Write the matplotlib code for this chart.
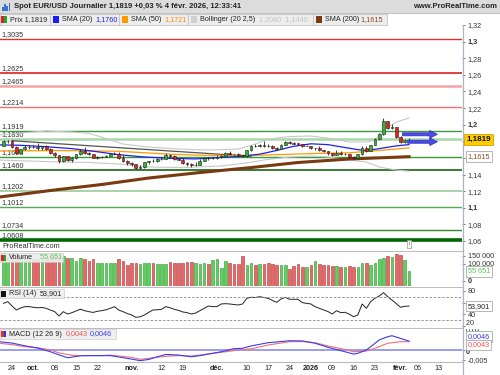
import numpy as np
import pandas as pd
import matplotlib
matplotlib.use('Agg')
import matplotlib.pyplot as plt
from matplotlib.patches import Rectangle
from matplotlib.lines import Line2D
from matplotlib.transforms import Bbox

plt.rcParams['font.family'] = ['Liberation Sans', 'DejaVu Sans']

# EUR/USD daily candles, 22 sept. 2025 -> 4 févr. 2026
opens = [1.1745, 1.1800, 1.1803, 1.1735, 1.1665, 1.1702, 1.1727, 1.1733, 1.1730, 1.1717,
         1.1741, 1.1711, 1.1657, 1.1630, 1.1563, 1.1618, 1.1570, 1.1603, 1.1646, 1.1688,
         1.1654, 1.1644, 1.1604, 1.1610, 1.1616, 1.1626, 1.1644, 1.1650, 1.1600, 1.1566,
         1.1535, 1.1521, 1.1484, 1.1492, 1.1547, 1.1565, 1.1558, 1.1582, 1.1592, 1.1633,
         1.1621, 1.1592, 1.1581, 1.1543, 1.1527, 1.1512, 1.1520, 1.1569, 1.1598, 1.1594,
         1.1598, 1.1610, 1.1625, 1.1663, 1.1645, 1.1642, 1.1637, 1.1627, 1.1695, 1.1740,
         1.1738, 1.1753, 1.1745, 1.1742, 1.1722, 1.1710, 1.1760, 1.1795, 1.1780, 1.1772,
         1.1770, 1.1745, 1.1745, 1.1720, 1.1722, 1.1690, 1.1678, 1.1656, 1.1636, 1.1665,
         1.1645, 1.1645, 1.1610, 1.1598, 1.1645, 1.1725, 1.1685, 1.1755, 1.1828, 1.1882,
         1.2040, 1.1955, 1.1970, 1.1852, 1.1790, 1.1816]
highs = [1.1818, 1.1819, 1.1812, 1.1745, 1.1713, 1.1752, 1.1754, 1.1752, 1.1777, 1.1749,
         1.1752, 1.1718, 1.1668, 1.1635, 1.1627, 1.1625, 1.1612, 1.1651, 1.1705, 1.1728,
         1.1672, 1.1648, 1.1622, 1.1625, 1.1636, 1.1651, 1.1668, 1.1668, 1.1631, 1.1575,
         1.1545, 1.1532, 1.1510, 1.1553, 1.1569, 1.1586, 1.1595, 1.1610, 1.1656, 1.1653,
         1.1630, 1.1603, 1.1595, 1.1556, 1.1535, 1.1550, 1.1585, 1.1612, 1.1612, 1.1608,
         1.1630, 1.1640, 1.1670, 1.1682, 1.1650, 1.1655, 1.1650, 1.1700, 1.1752, 1.1762,
         1.1770, 1.1805, 1.1762, 1.1750, 1.1730, 1.1768, 1.1805, 1.1808, 1.1790, 1.1782,
         1.1772, 1.1760, 1.1745, 1.1725, 1.1745, 1.1700, 1.1682, 1.1660, 1.1699, 1.1680,
         1.1655, 1.1652, 1.1620, 1.1650, 1.1740, 1.1740, 1.1760, 1.1835, 1.1905, 1.2082,
         1.2045, 1.2005, 1.1975, 1.1865, 1.1830, 1.1835]
lows = [1.1738, 1.1780, 1.1725, 1.1645, 1.1658, 1.1695, 1.1710, 1.1715, 1.1698, 1.1700,
        1.1700, 1.1650, 1.1610, 1.1542, 1.1555, 1.1560, 1.1545, 1.1593, 1.1640, 1.1652,
        1.1630, 1.1600, 1.1590, 1.1598, 1.1610, 1.1618, 1.1640, 1.1590, 1.1550, 1.1520,
        1.1500, 1.1470, 1.1470, 1.1482, 1.1530, 1.1545, 1.1550, 1.1575, 1.1585, 1.1605,
        1.1575, 1.1570, 1.1532, 1.1505, 1.1490, 1.1502, 1.1510, 1.1560, 1.1580, 1.1585,
        1.1590, 1.1605, 1.1620, 1.1640, 1.1630, 1.1610, 1.1615, 1.1615, 1.1685, 1.1728,
        1.1730, 1.1735, 1.1730, 1.1712, 1.1695, 1.1705, 1.1755, 1.1770, 1.1765, 1.1755,
        1.1735, 1.1738, 1.1710, 1.1700, 1.1680, 1.1670, 1.1640, 1.1620, 1.1630, 1.1635,
        1.1630, 1.1600, 1.1590, 1.1590, 1.1640, 1.1675, 1.1680, 1.1750, 1.1820, 1.1875,
        1.1950, 1.1945, 1.1845, 1.1775, 1.1785, 1.1805]
closes = [1.1802, 1.1803, 1.1735, 1.1665, 1.1702, 1.1727, 1.1733, 1.1730, 1.1717, 1.1741,
          1.1711, 1.1657, 1.1630, 1.1563, 1.1618, 1.1570, 1.1603, 1.1646, 1.1688, 1.1654,
          1.1644, 1.1604, 1.1610, 1.1616, 1.1626, 1.1644, 1.1650, 1.1600, 1.1566, 1.1535,
          1.1521, 1.1484, 1.1492, 1.1547, 1.1565, 1.1558, 1.1582, 1.1592, 1.1633, 1.1621,
          1.1592, 1.1581, 1.1543, 1.1527, 1.1512, 1.1520, 1.1569, 1.1598, 1.1594, 1.1598,
          1.1610, 1.1625, 1.1663, 1.1645, 1.1642, 1.1637, 1.1627, 1.1695, 1.1740, 1.1738,
          1.1753, 1.1745, 1.1742, 1.1722, 1.1710, 1.1760, 1.1795, 1.1780, 1.1772, 1.1770,
          1.1745, 1.1745, 1.1720, 1.1722, 1.1690, 1.1678, 1.1656, 1.1636, 1.1665, 1.1645,
          1.1645, 1.1610, 1.1598, 1.1645, 1.1725, 1.1685, 1.1755, 1.1828, 1.1882, 1.2040,
          1.1955, 1.1970, 1.1852, 1.1790, 1.1816, 1.1819]
volumes = [165000, 150000, 160000, 155000, 150000, 140000, 135000, 130000, 130000, 135000,
           140000, 145000, 150000, 155000, 145000, 133000, 135000, 119000, 133000, 127000,
           119000, 127000, 107000, 103000, 107000, 107000, 107000, 127000, 119000, 93000,
           103000, 103000, 99000, 103000, 103000, 107000, 99000, 99000, 99000, 113000,
           103000, 103000, 103000, 113000, 113000, 103000, 99000, 107000, 99000, 123000,
           127000, 73000, 119000, 103000, 99000, 99000, 147000, 93000, 107000, 93000,
           99000, 99000, 103000, 99000, 91000, 91000, 91000, 67000, 87000, 99000,
           83000, 79000, 91000, 115000, 99000, 91000, 91000, 87000, 87000, 83000,
           79000, 87000, 83000, 83000, 107000, 103000, 93000, 103000, 127000, 133000,
           147000, 143000, 159000, 153000, 123000, 55651]
rsi = [58.6, 61.5, 54.0, 47.2, 50.5, 52.9, 53.0, 51.8, 51.0, 51.5,
       50.0, 47.0, 44.3, 36.9, 44.3, 40.3, 42.5, 45.5, 48.5, 46.0,
       44.3, 43.0, 45.0, 46.0, 47.5, 50.0, 52.9, 47.0, 44.3, 41.0,
       38.6, 34.6, 35.5, 38.6, 43.0, 47.2, 47.5, 48.3, 52.9, 51.0,
       48.3, 46.5, 43.8, 42.6, 40.3, 42.0, 46.0, 50.0, 54.0, 53.0,
       52.9, 57.5, 58.0, 57.5, 56.5, 55.8, 57.5, 67.2, 69.0, 68.5,
       70.0, 68.5, 67.2, 63.5, 60.3, 66.0, 68.9, 65.5, 65.5, 65.5,
       59.8, 58.5, 57.5, 52.9, 50.0, 47.2, 44.5, 40.3, 46.0, 42.6,
       43.2, 40.0, 35.7, 38.6, 57.5, 50.0, 61.5, 67.2, 71.0, 76.9,
       70.0, 64.3, 58.0, 51.8, 53.5, 53.9]

# smooth lines, read at some days (day index -> value)
sma20_x = [-1, 4, 10, 16, 21, 27, 33, 39, 45, 51, 56, 60, 64, 68, 72, 76, 80, 83, 85, 88, 92, 95]
sma20_y = [1.1757, 1.1752, 1.1735, 1.1712, 1.1681, 1.1639, 1.1611, 1.1595, 1.1588, 1.1606, 1.1622,
           1.1645, 1.1690, 1.1740, 1.1770, 1.1760, 1.1725, 1.1700, 1.1690, 1.1712, 1.1745, 1.1760]
sma50_x = [-1, 13, 27, 39, 46, 55, 65, 74, 81, 88, 95]
sma50_y = [1.1683, 1.1689, 1.1680, 1.1645, 1.1633, 1.1627, 1.1640, 1.1655, 1.1662, 1.1690, 1.1721]
sma200_x = [-1, 11, 23, 34, 46, 58, 69, 81, 95]
sma200_y = [1.1129, 1.1208, 1.1280, 1.1358, 1.1424, 1.1484, 1.1545, 1.1587, 1.1615]
bbu_x = [-1, 4, 10, 16, 20, 23, 28, 34, 41, 48, 55, 59, 62, 67, 72, 76, 81, 85, 87, 89, 92, 95]
bbu_y = [1.1876, 1.1900, 1.1924, 1.1912, 1.1895, 1.1851, 1.1767, 1.1731, 1.1707, 1.1695, 1.1707,
         1.1767, 1.1827, 1.1857, 1.1864, 1.1839, 1.1791, 1.1791, 1.1815, 1.1936, 1.2032, 1.2080]
bbl_x = [-1, 6, 13, 20, 27, 34, 42, 51, 57, 61, 67, 72, 76, 81, 85, 88, 92, 95]
bbl_y = [1.1575, 1.1563, 1.1551, 1.1545, 1.1527, 1.1491, 1.1484, 1.1503, 1.1539, 1.1575,
         1.1611, 1.1623, 1.1611, 1.1575, 1.1551, 1.1491, 1.1454, 1.1440]
trend_x = [2, 58]
trend_y = [1.1807, 1.1620]
macd_x = [-1, 2, 5, 8, 11, 13, 15, 18, 20, 23, 25, 27, 30, 32, 34, 36, 38, 41, 44, 46,
          48, 51, 54, 56, 58, 62, 67, 70, 73, 76, 80, 82, 83, 85, 86, 88, 90, 91, 93, 95]
macd_v = [0.0043, 0.0036, 0.0022, 0.0010, -0.0009, -0.0025, -0.0040, -0.0030, -0.0029, -0.0029,
          -0.0029, -0.0036, -0.0047, -0.0055, -0.0049, -0.0035, -0.0023, -0.0026, -0.0035, -0.0029,
          -0.0021, -0.0009, 0.0007, 0.0009, 0.0021, 0.0038, 0.0048, 0.0047, 0.0035, 0.0014,
          -0.0009, -0.0021, -0.0017, 0.0000, 0.0017, 0.0052, 0.0069, 0.0074, 0.0060, 0.0046]
sig_x = [-1, 2, 5, 8, 11, 13, 16, 18, 20, 23, 25, 27, 30, 32, 34, 37, 39, 41, 44, 46,
         49, 52, 55, 58, 62, 67, 70, 73, 76, 80, 82, 85, 87, 90, 93, 95]
sig_v = [0.0035, 0.0028, 0.0017, 0.0012, 0.0000, -0.0015, -0.0027, -0.0029, -0.0029, -0.0029,
         -0.0026, -0.0031, -0.0038, -0.0048, -0.0043, -0.0035, -0.0031, -0.0029, -0.0031, -0.0026,
         -0.0017, -0.0009, 0.0000, 0.0006, 0.0026, 0.0043, 0.0044, 0.0038, 0.0021, 0.0003,
         -0.0009, -0.0005, 0.0009, 0.0035, 0.0043, 0.0043]

# support / resistance levels
levels = [1.3035, 1.2625, 1.2465, 1.2214, 1.1919, 1.1830, 1.1608, 1.1460, 1.1202, 1.1012, 1.0734, 1.0608]
level_colors = ['#e03030', '#dd2020', '#f4a4a4', '#f07070', '#3a9a3a', '#a8d8a8',
                '#3a9a3a', '#146614', '#99cc99', '#55aa55', '#338833', '#006600']
level_widths = [1.0, 1.2, 1.8, 1.0, 1.0, 1.8, 1.0, 1.2, 1.2, 1.0, 1.0, 2.6]

tick_dates = ['2025-09-24', '2025-10-01', '2025-10-08', '2025-10-15', '2025-10-22', '2025-11-03',
              '2025-11-12', '2025-11-19', '2025-12-01', '2025-12-10', '2025-12-17', '2025-12-24',
              '2026-01-02', '2026-01-09', '2026-01-16', '2026-01-23', '2026-02-02', '2026-02-06',
              '2026-02-13']
tick_labels = ['24', 'oct.', '08', '15', '22', 'nov.', '12', '19', 'déc.', '10', '17', '24',
               '2026', '09', '16', '23', 'févr.', '06', '13']
bold_labels = ['oct.', 'nov.', 'déc.', '2026', 'févr.']

days = pd.bdate_range('2025-09-22', '2026-02-27')
days = days[~days.isin(pd.to_datetime(['2025-12-25', '2026-01-01']))]
ticks = [days.get_loc(pd.Timestamp(d)) for d in tick_dates]
x = np.arange(len(closes))
o, h, l, c = map(np.array, (opens, highs, lows, closes))
up = c >= o

W, H = 500, 375
def fx(p):
    return p / W
def fy(p):
    return 1 - p / H

fig = plt.figure(figsize=(5, 3.75), dpi=100)
fs = 5.2

def rect(x0, y0, x1, y1, **kw):
    fig.add_artist(Rectangle((fx(x0), fy(y1)), (x1 - x0) / W, (y1 - y0) / H,
                             transform=fig.transFigure, **kw))

def txt(px, py, s, **kw):
    kw.setdefault('fontsize', fs)
    kw.setdefault('color', '#222222')
    return fig.text(fx(px), fy(py), s, va='center', **kw)

def valbox(a, xpos, ypos, s, col, trans, **kw):
    a.text(xpos, ypos, s, transform=trans, fontsize=kw.pop('fontsize', fs), color=col,
           va='center', clip_on=False, zorder=6,
           bbox=dict(boxstyle='square,pad=0.25', fc=kw.pop('fc', 'white'),
                     ec=kw.pop('ec', '#aaaaaa'), lw=0.6), **kw)

def sidelabel(a, yv, s, **kw):
    # right-hand scale label placed by hand (next to a tick whose label is left empty)
    a.text(1.0, yv, '  ' + s, transform=a.get_yaxis_transform(), fontsize=fs,
           color='#333333', va='center', clip_on=False, **kw)

XL = (-0.82, 107.4)
axw = 462 / W
ax = fig.add_axes([0, fy(242), axw, 217 / H])
axv = fig.add_axes([0, fy(286), axw, 35 / H])
axr = fig.add_axes([0, fy(327), axw, 40 / H])
axm = fig.add_axes([0, fy(362), axw, 34 / H])

for a in (ax, axv, axr, axm):
    a.set_xlim(*XL)
    for s in ('top', 'bottom', 'left', 'right'):
        a.spines[s].set_visible(False)
    a.yaxis.tick_right()
    a.tick_params(axis='y', length=2.5, width=0.6, color='#666666', pad=1.5,
                  labelsize=fs, labelcolor='#333333')
    a.tick_params(axis='x', length=0, labelbottom=False)
for a in (axv, axr, axm):
    a.spines['top'].set_visible(True)
    a.spines['top'].set_color('#bbbbbb')
    a.spines['top'].set_linewidth(0.7)
axm.spines['bottom'].set_visible(True)
axm.spines['bottom'].set_color('#bbbbbb')

# ---- main price panel
ax.set_ylim(1.0588, 1.3199)
pt = np.arange(1.06, 1.3201, 0.02)
ax.set_yticks(pt)
# 1,18 and 1,16 sit under the value boxes
plabels = [('%.2f' % v).rstrip('0').replace('.', ',') for v in pt]
plabels = ['' if s in ('1,18', '1,16') else s for s in plabels]
ax.set_yticklabels(plabels)
for lab, v in zip(ax.get_yticklabels(), pt):
    if abs(v * 10 - round(v * 10)) < 1e-6:
        lab.set_fontweight('bold')

for lv, col, lw in zip(levels, level_colors, level_widths):
    ax.axhline(lv, color=col, lw=lw, zorder=1)
    ax.text(0.004, lv + 0.0012, ('%.4f' % lv).replace('.', ','), transform=ax.get_yaxis_transform(),
            fontsize=fs, color='#333333', va='bottom', zorder=1.5)

ax.plot(bbu_x, bbu_y, color='#c8c8c8', lw=0.8, zorder=2)
ax.plot(bbl_x, bbl_y, color='#c8c8c8', lw=0.8, zorder=2)
ax.plot(trend_x, trend_y, color='#555555', lw=0.9, zorder=2)
ax.plot(sma200_x, sma200_y, color='#7a3a10', lw=2.2, zorder=2)
ax.plot(sma50_x, sma50_y, color='#ff9900', lw=0.9, zorder=2)
ax.plot(sma20_x, sma20_y, color='#2020e8', lw=0.9, zorder=2)

ax.vlines(x, l, h, color='#222222', lw=0.6, zorder=3)
body = np.maximum(np.abs(c - o), 0.0004)
ax.bar(x, body, bottom=np.minimum(o, c), width=0.65,
       color=np.where(up, '#2fb52f', '#e82020'), edgecolor='#1e1e1e', lw=0.4, zorder=4)

arrow = dict(arrowstyle='simple,head_length=0.55,head_width=0.55,tail_width=0.22',
             fc='#4b4be8', ec='#2a2ab8', lw=0.5)
ax.annotate('', xy=(102.3, 1.1884), xytext=(92.8, 1.1884), arrowprops=arrow, zorder=5)
ax.annotate('', xy=(102.3, 1.1795), xytext=(94, 1.1795), arrowprops=arrow, zorder=5)

yx = ax.get_yaxis_transform()
valbox(ax, 1.009, closes[-1], '1,1819', '#111111', yx, fontsize=fs + 0.6, fontweight='bold',
       fc='#ffcc00', ec='#d4a000')
valbox(ax, 1.012, sma200_y[-1], '1,1615', '#8a4a20', yx)

# ---- volume
vfloor = -33000
axv.set_ylim(vfloor, 177000)
axv.bar(x, np.array(volumes) - vfloor, bottom=vfloor, width=0.62,
        color=np.where(up, '#5fcf5f', '#e46a6a'), edgecolor=np.where(up, '#2f9a2f', '#b83232'),
        lw=0.4)
axv.set_yticks([0, 100000, 150000])
axv.set_yticklabels(['0', '100 000', '150 000'])
axv.get_yticklabels()[0].set_fontweight('bold')
valbox(axv, 1.012, volumes[-1], '55 651', '#55cc55', axv.get_yaxis_transform())

# ---- RSI
axr.set_ylim(18, 86.6)
axr.plot(x, rsi, color='#222222', lw=0.7)
for lv in (70, 30):
    axr.axhline(lv, color='#888888', lw=0.6, ls=(0, (3, 2)))
axr.set_yticks([20, 40, 60, 80])
axr.set_yticklabels(['', '40', '', '80'])  # 60 hidden by the value box
sidelabel(axr, 24.5, '20')
valbox(axr, 1.012, rsi[-1], '53,901', '#222222', axr.get_yaxis_transform())

# ---- MACD
axm.set_ylim(-0.0062, 0.0114)
axm.axhline(0, color='#8c8cf0', lw=1.2)
axm.plot(sig_x, sig_v, color='#f07070', lw=0.8)
axm.plot(macd_x, macd_v, color='#3a3aee', lw=0.8)
axm.set_yticks([-0.005, 0])
axm.set_yticklabels(['-0,005', ''])
sidelabel(axm, -0.0013, '0', fontweight='bold')
# 0,01 is cut by the top of the panel
t01 = axm.text(1.0, 0.01, '  0,01', transform=axm.get_yaxis_transform(), fontsize=fs,
               color='#333333', va='center')
t01.set_clip_box(Bbox.from_extents(460, 375 - 362, 500, 375 - 328.5))
t01.set_clip_on(True)
valbox(axm, 1.012, 0.75, '0,0046', '#3a3aee', axm.transAxes)
valbox(axm, 1.012, 0.5, '0,0043', '#ee5555', axm.transAxes)

axm.set_xticks(ticks)
axm.set_xticklabels(tick_labels)
axm.tick_params(axis='x', labelbottom=True, labelsize=fs, labelcolor='#222222', pad=2)
for lab in axm.get_xticklabels():
    if lab.get_text() in bold_labels:
        lab.set_fontweight('bold')

# vertical axis line through all panels
fig.add_artist(Line2D([fx(462.5)] * 2, [fy(25), fy(375)], color='#aab4c4', lw=0.9,
                      transform=fig.transFigure))

# ---- header rows
rect(0, 0, 500, 13, fc='#dcdcdc', ec='none')
fig.add_artist(Line2D([0, 1], [fy(13), fy(13)], color='#b8b8b8', lw=0.6, transform=fig.transFigure))
for i, hgt in enumerate([4, 7, 5, 8]):
    rect(2 + i * 2.2, 11 - hgt, 3.6 + i * 2.2, 11, fc='#3a74d0', ec='none')
txt(14, 6.8, 'Spot EUR/USD Journalier 1,1819 +0,03 % 4 févr. 2026, 12:33:41',
    fontweight='bold', fontsize=fs + 0.3)
txt(497, 6.8, 'www.ProRealTime.com', fontweight='bold', fontsize=fs + 0.3, ha='right')

for x0, x1 in [(0, 50), (50, 119), (119, 188), (188, 313), (313, 387)]:
    rect(x0, 13.5, x1, 25, fc='#ededed', ec='#c4c4c4', lw=0.6)
rect(1, 16, 4, 22.5, fc='#dd2222', ec='none')
rect(4, 16, 7, 22.5, fc='#22aa22', ec='none')
txt(10, 19.3, 'Prix 1,1819')
rect(53, 16, 59, 22.5, fc='#1a1aff', ec='none')
txt(62, 19.3, 'SMA (20)')
txt(95, 19.3, '1,1760', color='#2222dd')
rect(122, 16, 128, 22.5, fc='#ff9900', ec='none')
txt(131, 19.3, 'SMA (50)')
txt(164, 19.3, '1,1721', color='#ff8c00')
rect(191, 16, 197, 22.5, fc='#d0d0d0', ec='none')
txt(200, 19.3, 'Bollinger (20 2,5)')
txt(259, 19.3, '1,2080  1,1440', color='#c4c4c4')
rect(316, 16, 322, 22.5, fc='#7a3a10', ec='none')
txt(325, 19.3, 'SMA (200)')
txt(360, 19.3, '1,1615', color='#8a4a20')

# ---- sub-panel legends
txt(2, 246.5, 'ProRealTime.com', color='#333333')
txt(409, 244, 'i', fontsize=4, ha='center', color='#666666',
    bbox=dict(boxstyle='square,pad=0.3', fc='white', ec='#999999', lw=0.5))

rect(0, 252.5, 63, 262, fc='#eeeeee', ec='#c8c8c8', lw=0.5, alpha=0.9)
rect(1, 254.5, 3.5, 260.5, fc='#dd2222', ec='none')
rect(3.5, 254.5, 6, 260.5, fc='#22aa22', ec='none')
txt(9, 257.5, 'Volume')
txt(40, 257.5, '55 651', color='#55cc55')

rect(0, 288.5, 64, 298, fc='#eeeeee', ec='#c8c8c8', lw=0.5, alpha=0.9)
rect(1, 290.5, 6, 296.5, fc='#111111', ec='none')
txt(9, 293.5, 'RSI (14)')
txt(40, 293.5, '53,901')

rect(0, 329, 116, 338.5, fc='#eeeeee', ec='#c8c8c8', lw=0.5, alpha=0.9)
rect(1, 331, 3.5, 337, fc='#dd3333', ec='none')
rect(3.5, 331, 6, 337, fc='#3333dd', ec='none')
txt(9, 334, 'MACD (12 26 9)')
txt(66, 334, '0,0043', color='#ee5555')
txt(90, 334, '0,0046', color='#3a3aee')

fig.savefig('out.png', dpi=100)
